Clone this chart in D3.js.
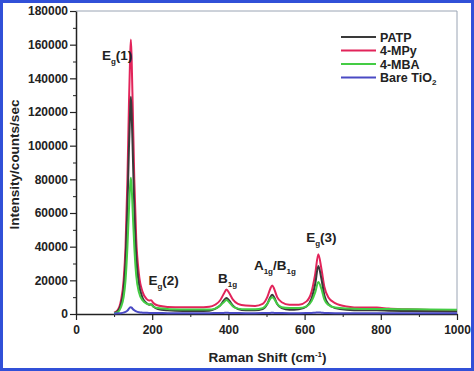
<!DOCTYPE html>
<html>
<head>
<meta charset="utf-8">
<script src="https://cdn.jsdelivr.net/npm/d3@7"></script>
<style>
  body { margin: 0; background: #fff; }
  svg { display: block; font-family: "Liberation Sans", Arial, sans-serif; font-weight: bold; }
  .tick text { font-size: 12px; fill: #222; }
</style>
</head>
<body>
<script>
// Raman shift (cm-1) sampling points
var ramanShift = [100,110,118,125,130,135,139,142,144,146,149,153,158,165,175,185,192,197,203,215,240,280,320,350,365,378,388,395,402,412,425,445,470,490,502,510,515,520,528,540,560,585,605,618,628,636,644,652,662,680,710,750,790,820,870,930,1000];

var mpy = [800,2500,8000,20000,40000,80000,125000,152000,163000,152000,122000,80000,45000,24000,13000,9000,8000,8200,6500,5000,4200,4000,4000,4300,5500,8000,12000,14500,12500,8500,6000,5000,4800,6000,10000,15000,17000,15000,10000,7000,5500,5500,7500,13000,24000,35500,27000,16000,10000,6500,4500,3800,3800,3200,2800,2400,2000];

var patp = [500,1800,6000,15000,31000,63000,99000,120000,129000,120000,96000,63000,35000,18000,9500,6500,5500,5800,4500,3000,2200,1800,1800,2000,3000,5000,8000,9500,8000,5000,3000,2200,2200,3000,6000,10000,11500,10000,6000,3500,2500,2800,4500,9000,18000,28500,21000,11000,6000,3500,2500,2200,2200,2000,1800,1600,1500];

var mba = [500,1200,4000,10000,20000,40000,62000,76000,81000,76000,60000,40000,23000,13000,8000,6200,5700,5600,4300,3500,3000,2700,2600,2600,3200,5000,7000,8300,7000,4500,3200,2800,2800,3500,6000,9000,10000,9000,6000,4000,3500,3500,4500,7500,13000,19000,15000,8500,5500,3800,3200,3000,3000,2900,2800,2700,2500];

var bareTiO2 = [300,400,500,800,1200,2000,3200,3900,4000,3800,3000,2200,1500,1000,800,700,650,650,600,600,500,500,500,500,550,600,650,700,650,600,550,500,500,550,600,650,700,650,600,550,500,500,550,650,800,900,800,650,550,500,500,500,500,500,500,500,500];

var seriesNames = ["4-MPy", "PATP", "4-MBA", "Bare TiO2"];
var seriesColors = ["#e2245a", "#3a3a3a", "#44cc44", "#4a4ac4"];
var seriesValues = [mpy, patp, mba, bareTiO2];

var legendOrder = ["PATP", "4-MPy", "4-MBA", "Bare TiO2"];

var xTicks = [0, 200, 400, 600, 800, 1000];
var yTicks = [0, 20000, 40000, 60000, 80000, 100000, 120000, 140000, 160000, 180000];

// peak annotations: [main, subscript, rest, subscript2, anchor shift, anchor intensity]
var peakLabels = [
  ["E", "g", "(1)", "", 108, 151000],
  ["E", "g", "(2)", "", 230, 17500],
  ["B", "1g", "", "", 398, 18500],
  ["A", "1g", "/B", "1g", 522, 26000],
  ["E", "g", "(3)", "", 644, 43000]
];

var width = 474, height = 371;
var margin = {left: 76, right: 17, top: 11, bottom: 57};

var svg = d3.select("body").append("svg")
    .attr("width", width)
    .attr("height", height);

var x = d3.scaleLinear().domain([0, 1000]).range([margin.left, width - margin.right]);
var y = d3.scaleLinear().domain([0, 180000]).range([height - margin.bottom, margin.top]);

// frame (top / right)
svg.append("line")
    .attr("x1", x(0)).attr("x2", x(1000))
    .attr("y1", y(180000)).attr("y2", y(180000))
    .attr("stroke", "#9aa4b4").attr("stroke-width", 1);
svg.append("line")
    .attr("x1", x(1000)).attr("x2", x(1000))
    .attr("y1", y(180000)).attr("y2", y(0))
    .attr("stroke", "#9aa4b4").attr("stroke-width", 1);

// minor ticks
svg.append("g")
    .attr("transform", "translate(0," + y(0) + ")")
    .call(d3.axisBottom(x).tickValues(d3.range(100, 1000, 200)).tickSize(3).tickFormat(""))
    .call(function(g){ g.select(".domain").remove(); g.selectAll("line").attr("stroke", "#222"); });
svg.append("g")
    .attr("transform", "translate(" + x(0) + ",0)")
    .call(d3.axisLeft(y).tickValues(d3.range(10000, 180000, 20000)).tickSize(3).tickFormat(""))
    .call(function(g){ g.select(".domain").remove(); g.selectAll("line").attr("stroke", "#222"); });

var xAxis = svg.append("g")
    .attr("transform", "translate(0," + y(0) + ")")
    .call(d3.axisBottom(x).tickValues(xTicks).tickFormat(d3.format("d")).tickSize(6).tickPadding(5).tickSizeOuter(0));
var yAxis = svg.append("g")
    .attr("transform", "translate(" + x(0) + ",0)")
    .call(d3.axisLeft(y).tickValues(yTicks).tickFormat(d3.format("d")).tickSize(6).tickPadding(2).tickSizeOuter(0));

[xAxis, yAxis].forEach(function(g){
  g.select(".domain").attr("stroke", "#222").attr("stroke-width", 1.5);
  g.selectAll(".tick line").attr("stroke", "#222").attr("stroke-width", 1.2);
  g.selectAll(".tick text").style("font-family", "Liberation Sans, Arial, sans-serif").style("font-weight", "bold");
});

// spectra
var line = d3.line()
    .x(function(d) { return x(d[0]); })
    .y(function(d) { return y(d[1]); })
    .curve(d3.curveMonotoneX);

seriesValues.forEach(function(vals, i){
  var pts = ramanShift.map(function(r, j){ return [r, vals[j]]; });
  svg.append("path")
      .datum(pts)
      .attr("fill", "none")
      .attr("stroke", seriesColors[i])
      .attr("stroke-width", 2)
      .attr("stroke-linejoin", "round")
      .attr("d", line);
});

// legend
var legend = svg.append("g").attr("class", "legend");
legendOrder.forEach(function(name, i){
  var c = seriesColors[seriesNames.indexOf(name)];
  var ly = 37 + i * 13.5;
  legend.append("line")
      .attr("x1", 341).attr("x2", 376)
      .attr("y1", ly).attr("y2", ly)
      .attr("stroke", c).attr("stroke-width", 2);
  var t = legend.append("text")
      .attr("x", 380).attr("y", ly + 4.5)
      .attr("font-size", 12.5)
      .attr("fill", "#222");
  if (name === "Bare TiO2") {
    t.append("tspan").text("Bare TiO");
    t.append("tspan").attr("font-size", 8).attr("dy", 3).text("2");
  } else {
    t.text(name);
  }
});

// peak labels
peakLabels.forEach(function(p){
  var t = svg.append("text")
      .attr("x", x(p[4]))
      .attr("y", y(p[5]))
      .attr("text-anchor", "middle")
      .attr("font-size", 13.5)
      .attr("fill", "#222");
  t.append("tspan").text(p[0]);
  t.append("tspan").attr("font-size", 8).attr("dy", 4).text(p[1]);
  if (p[2]) t.append("tspan").attr("dy", -4).text(p[2]);
  if (p[3]) t.append("tspan").attr("font-size", 8).attr("dy", 4).text(p[3]);
});

// axis titles
svg.append("text")
    .attr("transform", "translate(19," + ((y(0) + y(180000)) / 2 + 2) + ") rotate(-90)")
    .attr("text-anchor", "middle")
    .attr("font-size", 13.5)
    .attr("fill", "#222")
    .text("Intensity/counts/sec");

var xt = svg.append("text")
    .attr("x", (x(0) + x(1000)) / 2 + 1)
    .attr("y", 362)
    .attr("text-anchor", "middle")
    .attr("font-size", 13.5)
    .attr("fill", "#222");
xt.append("tspan").text("Raman Shift (cm");
xt.append("tspan").attr("font-size", 8).attr("dy", -5).text("-1");
xt.append("tspan").attr("dy", 5).text(")");

// image border
svg.append("rect")
    .attr("x", 1.5).attr("y", 1.5)
    .attr("width", width - 3).attr("height", height - 3)
    .attr("fill", "none")
    .attr("stroke", "#3150d8")
    .attr("stroke-width", 3);
</script>
</body>
</html>
